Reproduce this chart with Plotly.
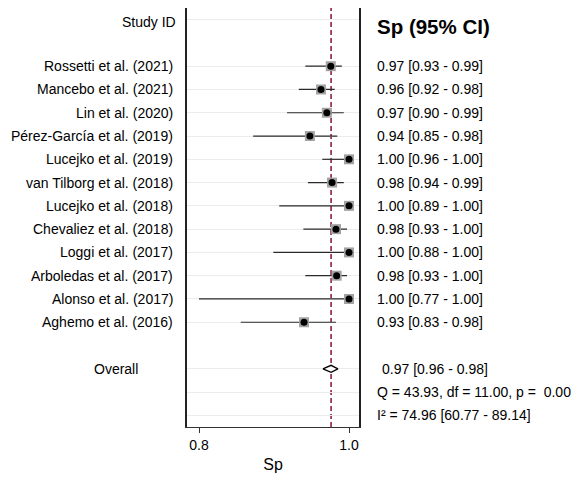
import plotly.graph_objects as go

# ---- data ----
studies = ["Rossetti et al. (2021)", "Mancebo et al. (2021)", "Lin et al. (2020)",
           "Pérez-García et al. (2019)", "Lucejko et al. (2019)", "van Tilborg et al. (2018)",
           "Lucejko et al. (2018)", "Chevaliez et al. (2018)", "Loggi et al. (2017)",
           "Arboledas et al. (2017)", "Alonso et al. (2017)", "Aghemo et al. (2016)"]
sp_est = [0.972, 0.957, 0.966, 0.940, 1.000, 0.974, 1.000, 0.980, 1.000, 0.981, 1.000, 0.931]
sp_lo = [0.933, 0.923, 0.905, 0.853, 0.959, 0.937, 0.893, 0.930, 0.884, 0.933, 0.770, 0.834]
sp_hi = [0.989, 0.978, 0.992, 0.982, 1.000, 0.992, 1.000, 0.997, 1.000, 0.997, 1.000, 0.980]
sp_text = ["0.97 [0.93 - 0.99]", "0.96 [0.92 - 0.98]", "0.97 [0.90 - 0.99]",
           "0.94 [0.85 - 0.98]", "1.00 [0.96 - 1.00]", "0.98 [0.94 - 0.99]",
           "1.00 [0.89 - 1.00]", "0.98 [0.93 - 1.00]", "1.00 [0.88 - 1.00]",
           "0.98 [0.93 - 1.00]", "1.00 [0.77 - 1.00]", "0.93 [0.83 - 0.98]"]
overall_est = 0.9725
overall_lo = 0.960
overall_hi = 0.983
overall_text = "0.97 [0.96 - 0.98]"
het_q_text = "Q = 43.93, df = 11.00, p =  0.00"
het_i2_text = "I² = 74.96 [60.77 - 89.14]"
tick_vals = [0.77, 1.00]
tick_text = ["0.8", "1.0"]

# row layout
study_rows = list(range(2, 2 + len(studies)))
overall_row = 15
q_row = 16
i2_row = 17
grid_rows = [0] + study_rows + [overall_row, q_row, i2_row]

FONT = "Liberation Sans, Arial, sans-serif"
FS = 14
fig = go.Figure()

# CI lines
ci_x, ci_y = [], []
for lo, hi, r in zip(sp_lo, sp_hi, study_rows):
    ci_x += [lo, hi, None]
    ci_y += [r, r, None]
fig.add_trace(go.Scatter(x=ci_x, y=ci_y, mode="lines",
                         line=dict(color="#2a2a2a", width=1.2), hoverinfo="skip"))
# weight squares
fig.add_trace(go.Scatter(x=sp_est, y=study_rows, mode="markers",
                         marker=dict(symbol="square", size=10, color="#a3a3a3",
                                     line=dict(width=0)), hoverinfo="skip"))
# point estimates
fig.add_trace(go.Scatter(x=sp_est, y=study_rows, mode="markers",
                         marker=dict(symbol="circle", size=7, color="black",
                                     line=dict(width=0)), text=studies))
# overall diamond
dh = 0.15
fig.add_trace(go.Scatter(x=[overall_lo, overall_est, overall_hi, overall_est, overall_lo],
                         y=[overall_row, overall_row - dh, overall_row, overall_row + dh, overall_row],
                         mode="lines", fill="toself", fillcolor="white",
                         line=dict(color="black", width=1.3), hoverinfo="skip"))

# dashed overall line
fig.add_shape(type="line", xref="x", yref="paper", x0=overall_est, x1=overall_est,
              y0=0, y1=1, line=dict(color="#8b2340", width=1.6, dash="5px,3px"),
              layer="below")

def txt(size=FS):
    return dict(size=size, color="black", family=FONT)

ann = []
ann.append(dict(text="Study ID", x=0, xref="paper", y=0, yref="y", xanchor="right",
                xshift=-9, yshift=-2, showarrow=False, font=txt()))
ann.append(dict(text="<b>Sp (95% CI)</b>", x=1, xref="paper", y=0, yref="y", xanchor="left",
                xshift=16, yshift=-7, showarrow=False, font=txt(20.5)))
for s, t, r in zip(studies, sp_text, study_rows):
    ann.append(dict(text=s, x=0, xref="paper", y=r, yref="y", xanchor="right", xshift=-12,
                    showarrow=False, font=txt()))
    ann.append(dict(text=t, x=1, xref="paper", y=r, yref="y", xanchor="left", xshift=16,
                    showarrow=False, font=txt()))
ann.append(dict(text="Overall", x=0, xref="paper", y=overall_row, yref="y", xanchor="right",
                xshift=-47, showarrow=False, font=txt()))
ann.append(dict(text=overall_text, x=1, xref="paper", y=overall_row, yref="y", xanchor="left",
                xshift=21, showarrow=False, font=txt()))
ann.append(dict(text=het_q_text, x=1, xref="paper", y=q_row, yref="y", xanchor="left",
                xshift=16, showarrow=False, font=txt()))
ann.append(dict(text=het_i2_text, x=1, xref="paper", y=i2_row, yref="y", xanchor="left",
                xshift=16, showarrow=False, font=txt()))

fig.update_layout(
    width=576, height=478,
    margin=dict(l=187, r=217, t=8, b=49),
    paper_bgcolor="white", plot_bgcolor="white",
    showlegend=False,
    annotations=ann,
    font=dict(family=FONT, color="black"),
    xaxis=dict(range=[0.7516, 1.0153], tickvals=tick_vals, ticktext=tick_text,
               showgrid=False, zeroline=False, showline=True, linecolor="#333333",
               linewidth=1.3, ticks="outside", ticklen=5, tickcolor="#333333",
               tickfont=txt(), 
               title=dict(text="Sp", font=txt(16), standoff=6)),
    yaxis=dict(range=[17.5, -0.5], tickvals=grid_rows, showticklabels=False,
               showgrid=True, gridcolor="#ececec", gridwidth=1, zeroline=False,
               showline=True, mirror=True, linecolor="#222222", linewidth=1.6, ticks=""),
)

fig.write_html("out.html")
